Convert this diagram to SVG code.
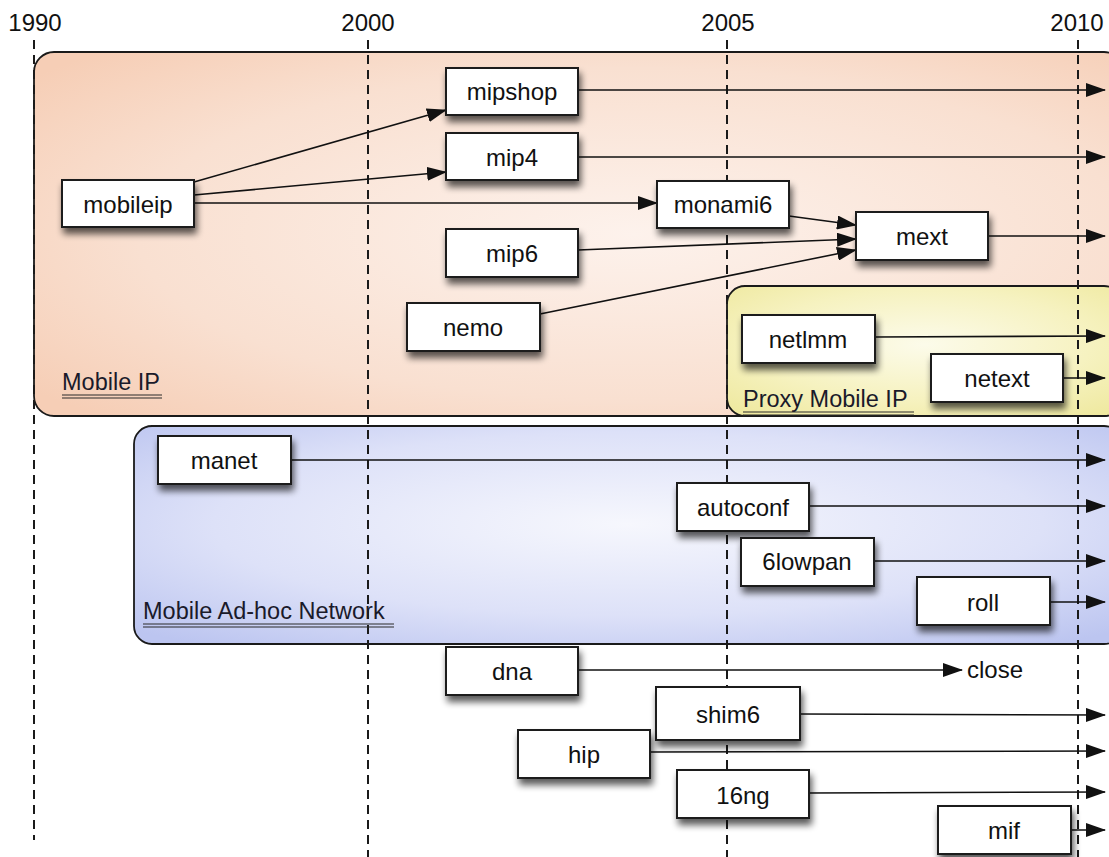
<svg xmlns="http://www.w3.org/2000/svg" width="1109" height="857" viewBox="0 0 1109 857">
  <style>
    .yr { font-family: "Liberation Sans", Arial, sans-serif; font-size: 24px; fill: #111; text-anchor: middle; }
    .grid { stroke: #1a1a1a; stroke-width: 2; stroke-dasharray: 9 6; fill: none; }
    .region { stroke: #1a1a1a; stroke-width: 1.8; }
    .rlabel { font-family: "Liberation Sans", Arial, sans-serif; font-size: 23.5px; fill: #1a1a2a; }
    .uline { stroke: #2a2a2a; stroke-width: 1.2; }
    .box { fill: #fff; stroke: #1a1a1a; stroke-width: 2; filter: url(#shadow); }
    .lbl { font-family: "Liberation Sans", Arial, sans-serif; font-size: 24px; fill: #111; text-anchor: middle; dominant-baseline: central; }
    .conn { stroke: #111; stroke-width: 1.6; fill: none; marker-end: url(#arrow); }
  </style>
  <defs>
    <radialGradient id="gMip" cx="0.55" cy="0.5" r="0.7">
      <stop offset="0" stop-color="#fdf2ec"/>
      <stop offset="0.65" stop-color="#f9e0d1"/>
      <stop offset="1" stop-color="#f6ceb6"/>
    </radialGradient>
    <radialGradient id="gPmip" cx="0.5" cy="0.45" r="0.7">
      <stop offset="0" stop-color="#fcfbea"/>
      <stop offset="0.6" stop-color="#f6f2c0"/>
      <stop offset="1" stop-color="#efe9a0"/>
    </radialGradient>
    <radialGradient id="gManet" cx="0.5" cy="0.45" r="0.7">
      <stop offset="0" stop-color="#f6f7fd"/>
      <stop offset="0.6" stop-color="#dde1f8"/>
      <stop offset="1" stop-color="#bcc5f0"/>
    </radialGradient>
    <filter id="shadow" x="-20%" y="-20%" width="150%" height="170%">
      <feGaussianBlur in="SourceAlpha" stdDeviation="3.5"/>
      <feOffset dx="2" dy="6" result="b"/>
      <feComponentTransfer><feFuncA type="linear" slope="0.65"/></feComponentTransfer>
      <feMerge><feMergeNode/><feMergeNode in="SourceGraphic"/></feMerge>
    </filter>
    <marker id="arrow" viewBox="0 0 20 14" refX="19" refY="7" markerWidth="20" markerHeight="14" markerUnits="userSpaceOnUse" orient="auto">
      <path d="M0,0 L20,7 L0,14 Z" fill="#111"/>
    </marker>
  </defs>

  <rect width="1109" height="857" fill="#fff"/>

  <!-- working-group areas -->
  <g id="area-mobile-ip">
    <rect class="region" x="34" y="52" width="1090" height="364" rx="20" fill="url(#gMip)"/>
  </g>
  <g id="area-proxy-mobile-ip">
    <rect class="region" x="727" y="286" width="395" height="130" rx="18" fill="url(#gPmip)"/>
  </g>
  <g id="area-manet">
    <rect class="region" x="134" y="426" width="988" height="218" rx="18" fill="url(#gManet)"/>
  </g>

  <!-- year axis -->
  <g id="years">
    <text class="yr" x="35" y="31">1990</text>
    <text class="yr" x="368" y="31">2000</text>
    <text class="yr" x="728" y="31">2005</text>
    <text class="yr" x="1077" y="31">2010</text>
    <line class="grid" x1="34" y1="40" x2="34" y2="840"/>
    <line class="grid" x1="368" y1="40" x2="368" y2="857"/>
    <line class="grid" x1="727" y1="40" x2="727" y2="857"/>
    <line class="grid" x1="1078" y1="40" x2="1078" y2="857"/>
  </g>

  <!-- area labels -->
  <g id="area-labels">
    <text class="rlabel" x="62" y="390">Mobile IP</text>
    <line class="uline" x1="62" y1="395" x2="162" y2="395"/>
    <line class="uline" x1="62" y1="398" x2="162" y2="398"/>
    <text class="rlabel" x="743" y="407">Proxy Mobile IP</text>
    <line class="uline" x1="743" y1="412" x2="914" y2="412"/>
    <line class="uline" x1="743" y1="415" x2="914" y2="415"/>
    <text class="rlabel" x="143" y="619">Mobile Ad-hoc Network</text>
    <line class="uline" x1="143" y1="624" x2="394" y2="624"/>
    <line class="uline" x1="143" y1="627" x2="394" y2="627"/>
  </g>

  <!-- connectors -->
  <g id="connectors">
    <line class="conn" x1="578" y1="90" x2="1105" y2="90"/>
    <line class="conn" x1="578" y1="157" x2="1105" y2="157"/>
    <line class="conn" x1="194" y1="182" x2="446" y2="110"/>
    <line class="conn" x1="194" y1="195" x2="446" y2="172"/>
    <line class="conn" x1="194" y1="203" x2="657" y2="203"/>
    <line class="conn" x1="789" y1="216" x2="856" y2="225"/>
    <line class="conn" x1="578" y1="250" x2="856" y2="239"/>
    <line class="conn" x1="540" y1="314" x2="856" y2="250"/>
    <line class="conn" x1="988" y1="236" x2="1105" y2="236"/>
    <line class="conn" x1="875" y1="337" x2="1105" y2="336"/>
    <line class="conn" x1="1063" y1="378" x2="1105" y2="378"/>
    <line class="conn" x1="291" y1="460" x2="1105" y2="460"/>
    <line class="conn" x1="809" y1="506" x2="1105" y2="506"/>
    <line class="conn" x1="874" y1="561" x2="1105" y2="561"/>
    <line class="conn" x1="1050" y1="602" x2="1105" y2="602"/>
    <line class="conn" x1="578" y1="670" x2="962" y2="670"/>
    <line class="conn" x1="800" y1="714" x2="1105" y2="715"/>
    <line class="conn" x1="650" y1="752" x2="1105" y2="751"/>
    <line class="conn" x1="809" y1="793" x2="1105" y2="792"/>
    <line class="conn" x1="1071" y1="830" x2="1105" y2="830"/>
  </g>

  <text class="lbl" x="967" y="669" style="text-anchor:start">close</text>

  <!-- working groups -->
  <g id="mobileip"><rect class="box" x="62" y="180" width="132" height="47"/><text class="lbl" x="128" y="204">mobileip</text></g>
  <g id="mipshop"><rect class="box" x="446" y="68" width="132" height="47"/><text class="lbl" x="512" y="91">mipshop</text></g>
  <g id="mip4"><rect class="box" x="446" y="133" width="132" height="47"/><text class="lbl" x="512" y="157">mip4</text></g>
  <g id="monami6"><rect class="box" x="657" y="181" width="132" height="47"/><text class="lbl" x="723" y="204">monami6</text></g>
  <g id="mip6"><rect class="box" x="446" y="229" width="132" height="48"/><text class="lbl" x="512" y="253">mip6</text></g>
  <g id="mext"><rect class="box" x="856" y="212" width="132" height="48"/><text class="lbl" x="922" y="236">mext</text></g>
  <g id="nemo"><rect class="box" x="407" y="303" width="133" height="48"/><text class="lbl" x="473" y="327">nemo</text></g>
  <g id="netlmm"><rect class="box" x="742" y="315" width="133" height="48"/><text class="lbl" x="808" y="339">netlmm</text></g>
  <g id="netext"><rect class="box" x="931" y="354" width="132" height="48"/><text class="lbl" x="997" y="378">netext</text></g>
  <g id="manet"><rect class="box" x="158" y="436" width="133" height="48"/><text class="lbl" x="224" y="460">manet</text></g>
  <g id="autoconf"><rect class="box" x="677" y="483" width="132" height="48"/><text class="lbl" x="743" y="507">autoconf</text></g>
  <g id="sixlowpan"><rect class="box" x="741" y="538" width="133" height="48"/><text class="lbl" x="807" y="561">6lowpan</text></g>
  <g id="roll"><rect class="box" x="917" y="577" width="133" height="48"/><text class="lbl" x="983" y="602">roll</text></g>
  <g id="dna"><rect class="box" x="446" y="647" width="132" height="48"/><text class="lbl" x="512" y="671">dna</text></g>
  <g id="shim6"><rect class="box" x="656" y="687" width="144" height="53"/><text class="lbl" x="728" y="714">shim6</text></g>
  <g id="hip"><rect class="box" x="518" y="730" width="132" height="48"/><text class="lbl" x="584" y="754">hip</text></g>
  <g id="ng16"><rect class="box" x="677" y="770" width="132" height="48"/><text class="lbl" x="743" y="795">16ng</text></g>
  <g id="mif"><rect class="box" x="938" y="806" width="133" height="48"/><text class="lbl" x="1004" y="830">mif</text></g>
</svg>
